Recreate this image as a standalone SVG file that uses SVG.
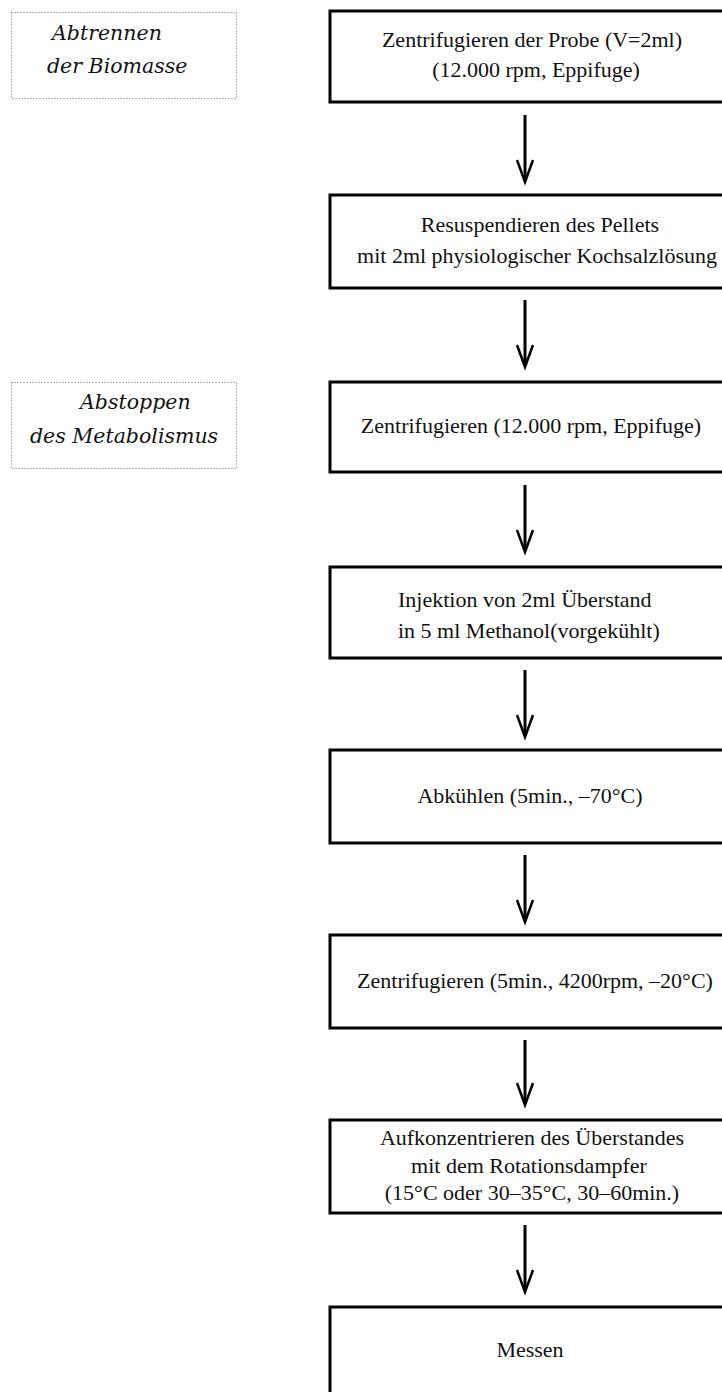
<svg xmlns="http://www.w3.org/2000/svg" width="722" height="1392" viewBox="0 0 722 1392">
<style>
.box{fill:#fff;stroke:#000;stroke-width:3}
.lbl{fill:none;stroke:#666;stroke-width:1;stroke-dasharray:1 2}
.t{font-family:"Liberation Serif","Times New Roman",serif;font-size:22px;fill:#111;text-anchor:middle}
.ts{font-family:"Liberation Serif","Times New Roman",serif;font-size:22px;fill:#111}
.it{font-family:"DejaVu Serif",serif;font-style:italic;font-size:20.5px;fill:#111}
.ln{stroke:#000;stroke-width:3;fill:none}
.hd{stroke:#000;stroke-width:2.5;fill:none;stroke-linejoin:miter}
</style>
<g id="label1">
<rect class="lbl" x="11.5" y="12.5" width="225" height="86"/>
<text class="it" x="52" y="40">Abtrennen</text>
<text class="it" x="47" y="73">der Biomasse</text>
</g>
<g id="label2">
<rect class="lbl" x="11.5" y="382.5" width="225" height="86"/>
<text class="it" x="80" y="409">Abstoppen</text>
<text class="it" x="30" y="443">des Metabolismus</text>
</g>
<g id="node1">
<rect class="box" x="330" y="11" width="420" height="91"/>
<text class="t" x="532" y="47">Zentrifugieren der Probe (V=2ml)</text>
<text class="t" x="536" y="77">(12.000 rpm, Eppifuge)</text>
</g>
<g id="node2">
<rect class="box" x="330" y="195" width="420" height="93"/>
<text class="t" x="540" y="232">Resuspendieren des Pellets</text>
<text class="t" x="537" y="263">mit 2ml physiologischer Kochsalzlösung</text>
</g>
<g id="node3">
<rect class="box" x="330" y="382" width="420" height="90"/>
<text class="t" x="531" y="433">Zentrifugieren (12.000 rpm, Eppifuge)</text>
</g>
<g id="node4">
<rect class="box" x="330" y="567" width="420" height="91"/>
<text class="ts" x="398" y="607">Injektion von 2ml Überstand</text>
<text class="ts" x="398" y="638">in 5 ml Methanol(vorgekühlt)</text>
</g>
<g id="node5">
<rect class="box" x="330" y="750" width="420" height="93"/>
<text class="t" x="530" y="803">Abkühlen (5min., –70°C)</text>
</g>
<g id="node6">
<rect class="box" x="330" y="935" width="420" height="93"/>
<text class="t" x="535" y="988">Zentrifugieren (5min., 4200rpm, –20°C)</text>
</g>
<g id="node7">
<rect class="box" x="330" y="1120" width="420" height="93"/>
<text class="t" x="532" y="1145">Aufkonzentrieren des Überstandes</text>
<text class="t" x="529" y="1173">mit dem Rotationsdampfer</text>
<text class="t" x="532" y="1200">(15°C oder 30–35°C, 30–60min.)</text>
</g>
<g id="node8">
<rect class="box" x="330" y="1307" width="420" height="120"/>
<text class="t" x="530" y="1357">Messen</text>
</g>
<g id="connectors">
<path class="ln" d="M525 115V181"/><path class="hd" d="M517 160L525 182L533 160"/>
<path class="ln" d="M525 300V366"/><path class="hd" d="M517 345L525 367L533 345"/>
<path class="ln" d="M525 485V551"/><path class="hd" d="M517 530L525 552L533 530"/>
<path class="ln" d="M525 670V736"/><path class="hd" d="M517 715L525 737L533 715"/>
<path class="ln" d="M525 855V921"/><path class="hd" d="M517 900L525 922L533 900"/>
<path class="ln" d="M525 1040V1104"/><path class="hd" d="M517 1083L525 1105L533 1083"/>
<path class="ln" d="M525 1225V1291"/><path class="hd" d="M517 1270L525 1292L533 1270"/>
</g>
</svg>
